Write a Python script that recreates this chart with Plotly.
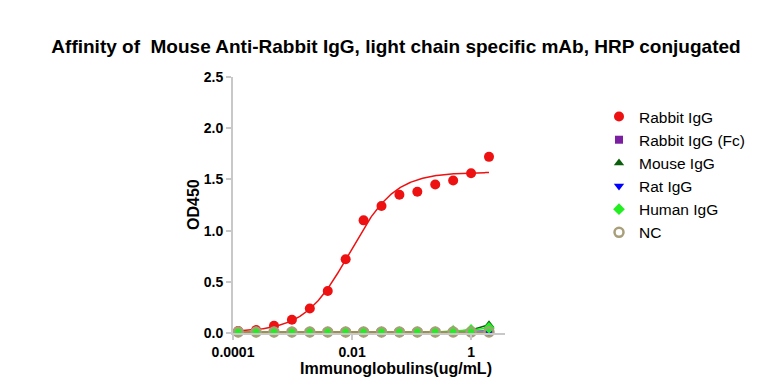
import numpy as np
import plotly.graph_objects as go

# ---- data ----
conc = [0.0001220703125, 0.000244140625, 0.00048828125, 0.0009765625, 0.001953125,
        0.00390625, 0.0078125, 0.015625, 0.03125, 0.0625, 0.125, 0.25, 0.5, 1, 2]
rabbit_igg = [0.02, 0.03, 0.07, 0.13, 0.24, 0.41, 0.72, 1.10, 1.24, 1.35, 1.38, 1.45, 1.49, 1.56, 1.72]
rabbit_fc = [0.01] * 15
mouse_igg = [0.01, 0.01, 0.01, 0.01, 0.01, 0.01, 0.01, 0.01, 0.01, 0.01, 0.01, 0.01, 0.015, 0.03, 0.08]
rat_igg = [0.01, 0.01, 0.01, 0.01, 0.01, 0.01, 0.01, 0.01, 0.01, 0.01, 0.01, 0.01, 0.01, 0.015, 0.02]
human_igg = [0.01, 0.01, 0.01, 0.01, 0.01, 0.01, 0.01, 0.01, 0.01, 0.01, 0.01, 0.01, 0.02, 0.03, 0.05]
nc = [0.01] * 15

# 4PL fit parameters for Rabbit IgG
fit_bottom, fit_top, fit_ec50, fit_hill = 0.01, 1.57, 0.0092, 1.15

x_ticks = [0.0001, 0.01, 1]
x_tick_labels = ["0.0001", "0.01", "1"]
y_ticks = [0.0, 0.5, 1.0, 1.5, 2.0, 2.5]
y_tick_labels = ["0.0", "0.5", "1.0", "1.5", "2.0", "2.5"]

FONT = "Liberation Sans, Arial, sans-serif"
AX = "#c8c8c8"

fig = go.Figure()

# fitted curve for Rabbit IgG
xf = np.logspace(np.log10(conc[0]), np.log10(conc[-1]), 300)
yf = fit_bottom + (fit_top - fit_bottom) / (1 + (fit_ec50 / xf) ** fit_hill)
fig.add_trace(go.Scatter(x=xf, y=yf, mode="lines", line=dict(color="#ee1111", width=1.5),
                         showlegend=False, hoverinfo="skip", cliponaxis=False))

series = [
    ("Rabbit IgG (Fc)", rabbit_fc, "#7a1fa2", "square", 8),
    ("Mouse IgG", mouse_igg, "#0b5e0b", "triangle-up", 9),
    ("Rat IgG", rat_igg, "#0000ff", "triangle-down", 9),
    ("Human IgG", human_igg, "#22ee22", "diamond", 9),
]
for name, vals, col, sym, sz in series:
    fig.add_trace(go.Scatter(x=conc, y=vals, mode="lines", line=dict(color=col, width=1.5),
                             showlegend=False, hoverinfo="skip", cliponaxis=False))
fig.add_trace(go.Scatter(x=conc, y=nc, mode="lines", line=dict(color="#9a9050", width=2),
                         showlegend=False, hoverinfo="skip", cliponaxis=False))

fig.add_trace(go.Scatter(x=conc, y=rabbit_igg, mode="markers", name="Rabbit IgG",
                         marker=dict(color="#ee1111", symbol="circle", size=10),
                         cliponaxis=False))
for name, vals, col, sym, sz in series:
    fig.add_trace(go.Scatter(x=conc, y=vals, mode="markers", name=name,
                             marker=dict(color=col, symbol=sym, size=sz), cliponaxis=False))
fig.add_trace(go.Scatter(x=conc, y=nc, mode="markers", name="NC",
                         marker=dict(color="rgba(0,0,0,0)", symbol="circle", size=9,
                                     line=dict(color="#a89f7a", width=2.5)),
                         cliponaxis=False))

# page has an 8px body margin: work in screen pixels and subtract it
OFF = 8
SW, SH = 766, 382
W, H = SW - OFF, SH - OFF
L, R, T, B = 233 - OFF, 505 - OFF, 77 - OFF, 333 - OFF

def px_x(sx):
    return (sx - OFF - L) / (R - L)

def px_y(sy):
    return (B - (sy - OFF)) / (B - T)

fig.update_layout(
    width=W, height=H,
    margin=dict(l=L, r=W - R, t=T, b=H - B, pad=0),
    paper_bgcolor="white", plot_bgcolor="white",
    font=dict(family=FONT, color="black"),
    title=dict(text="Affinity of\u00a0 Mouse Anti-Rabbit IgG, light chain specific mAb, HRP conjugated",
               x=(396 - OFF) / W, xref="container", xanchor="center",
               y=1 - (46 - OFF) / H, yref="container", yanchor="middle",
               font=dict(size=19, family=FONT, weight="bold", color="black")),
    xaxis=dict(type="log", range=[-4, 0.57], tickvals=x_ticks, ticktext=x_tick_labels,
               showgrid=False, zeroline=False, showline=True, linecolor=AX, linewidth=2,
               ticks="outside", ticklen=5, tickcolor=AX, tickwidth=2,
               tickfont=dict(size=14, family=FONT, weight="bold", color="black")),
    yaxis=dict(range=[0, 2.5], tickvals=y_ticks, ticktext=y_tick_labels,
               showgrid=False, zeroline=False, showline=True, linecolor=AX, linewidth=2,
               ticks="outside", ticklen=5, tickcolor=AX, tickwidth=2,
               tickfont=dict(size=14, family=FONT, weight="bold", color="black")),
    legend=dict(x=px_x(599), y=px_y(100), xanchor="left", yanchor="top",
                font=dict(size=15.5, family=FONT, color="black"),
                bgcolor="rgba(0,0,0,0)", itemwidth=30, tracegroupgap=0),
    showlegend=True,
    annotations=[
        dict(text="<b>Immunoglobulins(ug/mL)</b>", x=px_x(396), y=px_y(368), xref="paper",
             yref="paper", xanchor="center", yanchor="middle", showarrow=False,
             font=dict(size=16, family=FONT, color="black")),
        dict(text="<b>OD450</b>", x=px_x(193), y=px_y(205), xref="paper", yref="paper",
             xanchor="center", yanchor="middle", textangle=-90, showarrow=False,
             font=dict(size=16, family=FONT, color="black")),
    ],
)

fig.write_html("out.html")
